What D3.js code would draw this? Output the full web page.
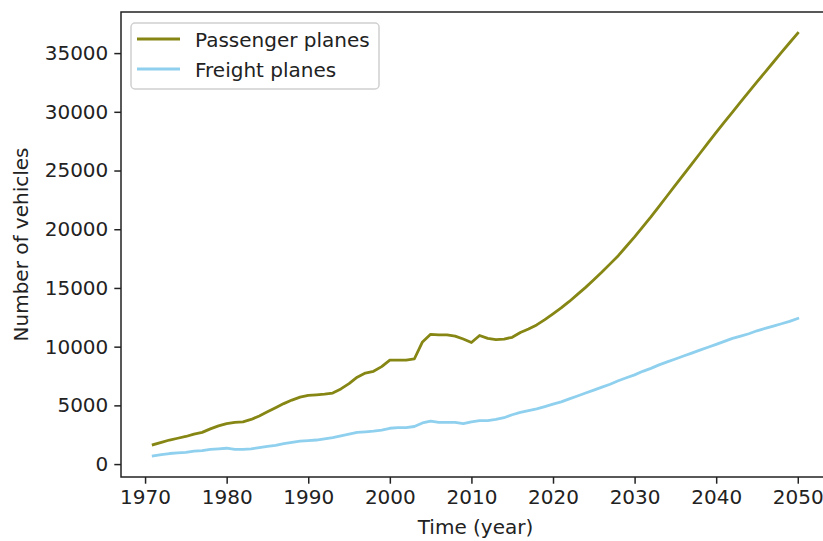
<!DOCTYPE html>
<html>
<head>
<meta charset="utf-8">
<script src="https://cdn.jsdelivr.net/npm/d3@7"></script>
<style>
  html, body { margin: 0; padding: 0; background: #fff; }
  svg { display: block; font-family: "DejaVu Sans", sans-serif; }
</style>
</head>
<body>
<svg id="chart" width="823" height="541"></svg>
<script>
const years = d3.range(1971, 2051);
const passengerPlanes = [
  1650, 1850, 2050, 2200, 2350, 2550, 2700, 3000, 3250, 3450,
  3550, 3600, 3800, 4100, 4450, 4800, 5150, 5450, 5700, 5850,
  5900, 5950, 6050, 6400, 6850, 7400, 7750, 7900, 8300, 8850,
  8850, 8850, 8950, 10400, 11050, 11000, 11000, 10900, 10650, 10350,
  10950, 10700, 10600, 10650, 10800, 11200, 11500, 11850, 12300, 12800,
  13300, 13850, 14450, 15050, 15700, 16350, 17050, 17750, 18550, 19350,
  20200, 21050, 21950, 22850, 23750, 24650, 25550, 26450, 27350, 28250,
  29120, 29980, 30840, 31690, 32540, 33380, 34220, 35060, 35880, 36700
];
const freightPlanes = [
  700, 800, 900, 950, 1000, 1100, 1150, 1250, 1300, 1350,
  1250, 1250, 1300, 1400, 1500, 1600, 1750, 1850, 1950, 2000,
  2050, 2150, 2250, 2400, 2550, 2700, 2750, 2800, 2900, 3050,
  3100, 3100, 3200, 3500, 3650, 3550, 3550, 3550, 3450, 3600,
  3700, 3700, 3800, 3950, 4200, 4400, 4550, 4700, 4900, 5100,
  5300, 5550, 5800, 6050, 6300, 6550, 6800, 7100, 7350, 7600,
  7900, 8150, 8450, 8700, 8950, 9200, 9450, 9700, 9950, 10200,
  10450, 10700, 10900, 11100, 11350, 11550, 11750, 11950, 12150, 12400
];
const seriesNames = ["Passenger planes", "Freight planes"];
const seriesColors = ["#868614", "#8fd0ee"];
const xTicks = [1970, 1980, 1990, 2000, 2010, 2020, 2030, 2040, 2050];
const yTicks = [0, 5000, 10000, 15000, 20000, 25000, 30000, 35000];
const xLabel = "Time (year)";
const yLabel = "Number of vehicles";

const svg = d3.select("#chart");
const L = 121, R = 830, T = 12, B = 477;
const FS = 20;

const allVals = passengerPlanes.concat(freightPlanes);
const xMin = d3.min(years), xMax = d3.max(years);
const yMin = d3.min(allVals), yMax = d3.max(allVals);
const xm = (xMax - xMin) * 0.05, ym = (yMax - yMin) * 0.05;

const x = d3.scaleLinear().domain([xMin - xm, xMax + xm]).range([L, R]);
const y = d3.scaleLinear().domain([yMin - ym, yMax + ym]).range([B, T]);

svg.append("defs").append("clipPath").attr("id", "clip")
  .append("rect").attr("x", L).attr("y", T).attr("width", R - L).attr("height", B - T);

const series = [passengerPlanes, freightPlanes];
const line = d3.line().x((d, i) => x(years[i])).y(d => y(d));
const plot = svg.append("g").attr("clip-path", "url(#clip)");
series.forEach((s, k) => {
  plot.append("path").datum(s)
    .attr("fill", "none")
    .attr("stroke", seriesColors[k])
    .attr("stroke-width", 2.8)
    .attr("stroke-linejoin", "round")
    .attr("stroke-linecap", "square")
    .attr("d", line);
});

// axes
const xAxis = d3.axisBottom(x).tickValues(xTicks).tickFormat(d3.format("d"))
  .tickSizeInner(6.7).tickSizeOuter(0).tickPadding(6);
const yAxis = d3.axisLeft(y).tickValues(yTicks).tickFormat(d3.format("d"))
  .tickSizeInner(6.7).tickSizeOuter(0).tickPadding(6);

const gx = svg.append("g").attr("transform", `translate(0,${B})`).call(xAxis);
const gy = svg.append("g").attr("transform", `translate(${L},0)`).call(yAxis);
[gx, gy].forEach(g => {
  g.select(".domain").remove();
  g.selectAll(".tick line").attr("stroke", "#222").attr("stroke-width", 1.5);
  g.selectAll(".tick text").attr("fill", "#222").style("font-size", FS + "px")
    .style("font-family", "'DejaVu Sans', sans-serif");
});

// spines
svg.append("rect").attr("x", L).attr("y", T).attr("width", R - L).attr("height", B - T)
  .attr("fill", "none").attr("stroke", "#222").attr("stroke-width", 1.5);

// axis labels
svg.append("text").attr("x", (L + R) / 2).attr("y", 534)
  .attr("text-anchor", "middle").attr("fill", "#222").style("font-size", FS + "px")
  .text(xLabel);
svg.append("text")
  .attr("transform", `translate(21,${(T + B) / 2}) rotate(-90)`)
  .attr("text-anchor", "middle").attr("dy", "0.35em").attr("fill", "#222")
  .style("font-size", FS + "px")
  .text(yLabel);

// legend
const lg = svg.append("g");
lg.append("rect").attr("x", 131).attr("y", 23).attr("width", 248).attr("height", 66)
  .attr("rx", 4).attr("fill", "#fff").attr("fill-opacity", 0.8)
  .attr("stroke", "#d0d0d0").attr("stroke-width", 1.5);
seriesNames.forEach((n, k) => {
  const cy = 39 + k * 30;
  lg.append("line").attr("x1", 137).attr("x2", 180).attr("y1", cy).attr("y2", cy)
    .attr("stroke", seriesColors[k]).attr("stroke-width", 2.8);
  lg.append("text").attr("x", 195).attr("y", cy + 1).attr("dy", "0.35em")
    .attr("fill", "#222").style("font-size", FS + "px").text(n);
});
</script>
</body>
</html>
